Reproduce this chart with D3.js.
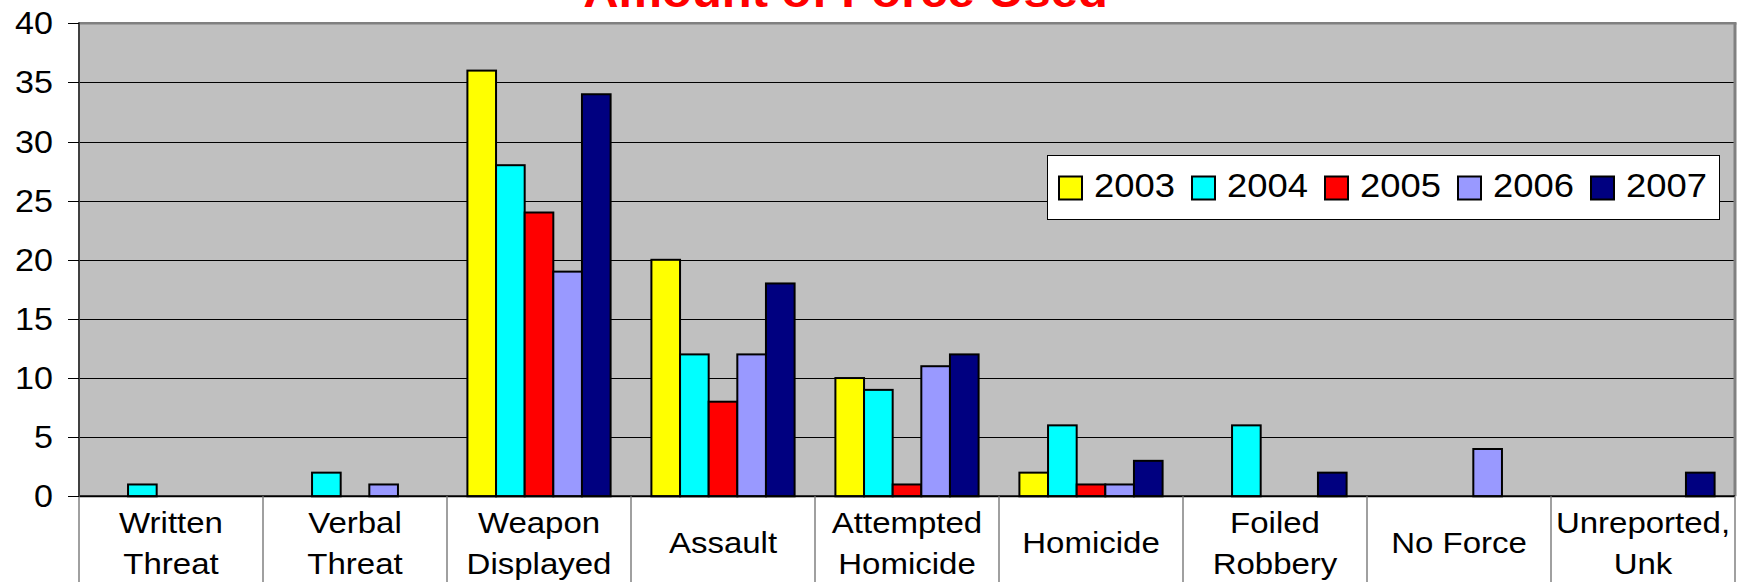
<!DOCTYPE html>
<html><head><meta charset="utf-8">
<script src="https://cdn.jsdelivr.net/npm/d3@7"></script>
<style>body{margin:0;background:#fff;overflow:hidden} svg{display:block}</style>
</head><body><svg id="c" width="1745" height="582"></svg>
<script>
// ---- data ----
const categories = ["Written Threat","Verbal Threat","Weapon Displayed","Assault","Attempted Homicide","Homicide","Foiled Robbery","No Force","Unreported, Unk"];
const categoryLines = [["Written","Threat"],["Verbal","Threat"],["Weapon","Displayed"],["Assault"],["Attempted","Homicide"],["Homicide"],["Foiled","Robbery"],["No Force"],["Unreported,","Unk"]];
const seriesNames = ["2003","2004","2005","2006","2007"];
const v2003 = [0,0,36,20,10,2,0,0,0];
const v2004 = [1,2,28,12,9,6,6,0,0];
const v2005 = [0,0,24,8,1,1,0,0,0];
const v2006 = [0,1,19,12,11,1,0,4,0];
const v2007 = [0,0,34,18,12,3,2,0,2];
const yTicks = [0,5,10,15,20,25,30,35,40];
const titleText = "Amount of Force Used";
const colors = ["#FFFF00","#00FFFF","#FF0000","#9999FF","#000080"];
const series = [v2003,v2004,v2005,v2006,v2007];

// ---- layout ----
const L = 79, R = 1735, T = 23.3, B = 496.3;
const SX = 1.1;
const FONT = "'Liberation Sans', Arial, sans-serif";
const svg = d3.select("#c");

const y = d3.scaleLinear().domain([0,40]).range([B,T]);
const x0 = d3.scaleBand().domain(d3.range(categories.length)).range([L,R]);
const x1 = d3.scaleBand().domain(d3.range(seriesNames.length)).range([20.4, x0.bandwidth()-20.4]);

function stext(g, x, yy, str, size, anchor, opts={}) {
  return g.append("text")
    .attr("transform", `translate(${x},${yy}) scale(${opts.sx||SX},1)`)
    .attr("text-anchor", anchor)
    .attr("font-family", FONT)
    .attr("font-size", size)
    .attr("font-weight", opts.bold ? "bold" : "normal")
    .attr("fill", opts.fill || "#000")
    .text(str);
}

// plot background
svg.append("rect").attr("x",L).attr("y",T).attr("width",R-L).attr("height",B-T).attr("fill","#C0C0C0");

// gridlines
svg.append("g").selectAll("line").data(yTicks.filter(d=>d>0 && d<40)).join("line")
  .attr("x1",L).attr("x2",R).attr("y1",d=>Math.round(y(d))+0.5).attr("y2",d=>Math.round(y(d))+0.5)
  .attr("stroke","#000").attr("stroke-width",1);

// bars
const gb = svg.append("g");
categories.forEach((c,i)=>{
  series.forEach((s,j)=>{
    const v = s[i];
    if (!v) return;
    gb.append("rect")
      .attr("x", x0(i)+x1(j)).attr("y", y(v))
      .attr("width", x1.bandwidth()).attr("height", y(0)-y(v))
      .attr("fill", colors[j]).attr("stroke","#000").attr("stroke-width",2);
  });
});

// plot border (top/right gray)
svg.append("line").attr("x1",L).attr("x2",R+1.5).attr("y1",T).attr("y2",T).attr("stroke","#808080").attr("stroke-width",2.5);
svg.append("line").attr("x1",R).attr("x2",R).attr("y1",T).attr("y2",B).attr("stroke","#808080").attr("stroke-width",3);

// zero line
svg.append("line").attr("x1",L).attr("x2",R).attr("y1",B).attr("y2",B).attr("stroke","#000").attr("stroke-width",2);

// category dividers below axis
svg.append("g").selectAll("line").data(d3.range(categories.length+1)).join("line")
  .attr("x1",d=> d<categories.length ? x0(d) : R).attr("x2",d=> d<categories.length ? x0(d) : R)
  .attr("y1",B).attr("y2",582)
  .attr("stroke","#808080").attr("stroke-width",1.5);

// y axis line
svg.append("line").attr("x1",L).attr("x2",L).attr("y1",T-1).attr("y2",B).attr("stroke","#404040").attr("stroke-width",2);

// y ticks
svg.append("g").selectAll("line").data(yTicks).join("line")
  .attr("x1",68).attr("x2",L).attr("y1",d=>Math.round(y(d))+0.5).attr("y2",d=>Math.round(y(d))+0.5)
  .attr("stroke","#000").attr("stroke-width",1);

const gy = svg.append("g");
yTicks.forEach(t=> stext(gy, 53, y(t)+11, String(t), 31, "end"));

// category labels
const gc = svg.append("g");
categoryLines.forEach((lines,i)=>{
  const cx = x0(i) + x0.bandwidth()/2;
  if (lines.length === 2) {
    stext(gc, cx, 533.3, lines[0], 30, "middle");
    stext(gc, cx, 574, lines[1], 30, "middle");
  } else {
    stext(gc, cx, 553, lines[0], 30, "middle");
  }
});

// legend
const lg = svg.append("g");
lg.append("rect").attr("x",1047.5).attr("y",155.5).attr("width",672).attr("height",64)
  .attr("fill","#fff").attr("stroke","#000").attr("stroke-width",1);
seriesNames.forEach((n,j)=>{
  const sx = 1059 + j*133;
  lg.append("rect").attr("x",sx).attr("y",176.5).attr("width",23).attr("height",23)
    .attr("fill",colors[j]).attr("stroke","#000").attr("stroke-width",2);
  stext(lg, sx+35, 197, n, 32.5, "start", {sx:1.12});
});

// title
stext(svg, 845.5, 7, titleText, 44.5, "middle", {bold:true, fill:"#FF0000"});
</script>
</body></html>
